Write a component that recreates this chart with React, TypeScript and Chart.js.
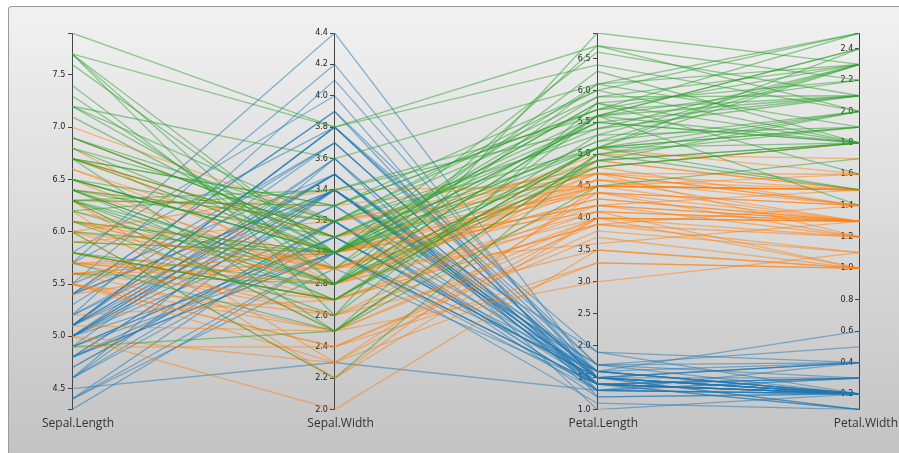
import React, { useEffect, useRef } from 'react';
import { Chart, registerables } from 'chart.js';

Chart.register(...registerables);

const dimensions = ['Sepal.Length', 'Sepal.Width', 'Petal.Length', 'Petal.Width'];
const speciesNames = ['setosa', 'versicolor', 'virginica'];
const speciesCounts = [50, 50, 50];
const speciesColors = ['rgba(31,119,180,0.5)', 'rgba(255,127,14,0.5)', 'rgba(44,160,44,0.5)'];

const sepalLength = [
  5.1, 4.9, 4.7, 4.6, 5.0, 5.4, 4.6, 5.0, 4.4, 4.9, 5.4, 4.8, 4.8, 4.3, 5.8, 5.7, 5.4, 5.1, 5.7, 5.1, 5.4, 5.1, 4.6, 5.1, 4.8,
  5.0, 5.0, 5.2, 5.2, 4.7, 4.8, 5.4, 5.2, 5.5, 4.9, 5.0, 5.5, 4.9, 4.4, 5.1, 5.0, 4.5, 4.4, 5.0, 5.1, 4.8, 5.1, 4.6, 5.3, 5.0,
  7.0, 6.4, 6.9, 5.5, 6.5, 5.7, 6.3, 4.9, 6.6, 5.2, 5.0, 5.9, 6.0, 6.1, 5.6, 6.7, 5.6, 5.8, 6.2, 5.6, 5.9, 6.1, 6.3, 6.1, 6.4,
  6.6, 6.8, 6.7, 6.0, 5.7, 5.5, 5.5, 5.8, 6.0, 5.4, 6.0, 6.7, 6.3, 5.6, 5.5, 5.5, 6.1, 5.8, 5.0, 5.6, 5.7, 5.7, 6.2, 5.1, 5.7,
  6.3, 5.8, 7.1, 6.3, 6.5, 7.6, 4.9, 7.3, 6.7, 7.2, 6.5, 6.4, 6.8, 5.7, 5.8, 6.4, 6.5, 7.7, 7.7, 6.0, 6.9, 5.6, 7.7, 6.3, 6.7,
  7.2, 6.2, 6.1, 6.4, 7.2, 7.4, 7.9, 6.4, 6.3, 6.1, 7.7, 6.3, 6.4, 6.0, 6.9, 6.7, 6.9, 5.8, 6.8, 6.7, 6.7, 6.3, 6.5, 6.2, 5.9,
];
const sepalWidth = [
  3.5, 3.0, 3.2, 3.1, 3.6, 3.9, 3.4, 3.4, 2.9, 3.1, 3.7, 3.4, 3.0, 3.0, 4.0, 4.4, 3.9, 3.5, 3.8, 3.8, 3.4, 3.7, 3.6, 3.3, 3.4,
  3.0, 3.4, 3.5, 3.4, 3.2, 3.1, 3.4, 4.1, 4.2, 3.1, 3.2, 3.5, 3.6, 3.0, 3.4, 3.5, 2.3, 3.2, 3.5, 3.8, 3.0, 3.8, 3.2, 3.7, 3.3,
  3.2, 3.2, 3.1, 2.3, 2.8, 2.8, 3.3, 2.4, 2.9, 2.7, 2.0, 3.0, 2.2, 2.9, 2.9, 3.1, 3.0, 2.7, 2.2, 2.5, 3.2, 2.8, 2.5, 2.8, 2.9,
  3.0, 2.8, 3.0, 2.9, 2.6, 2.4, 2.4, 2.7, 2.7, 3.0, 3.4, 3.1, 2.3, 3.0, 2.5, 2.6, 3.0, 2.6, 2.3, 2.7, 3.0, 2.9, 2.9, 2.5, 2.8,
  3.3, 2.7, 3.0, 2.9, 3.0, 3.0, 2.5, 2.9, 2.5, 3.6, 3.2, 2.7, 3.0, 2.5, 2.8, 3.2, 3.0, 3.8, 2.6, 2.2, 3.2, 2.8, 2.8, 2.7, 3.3,
  3.2, 2.8, 3.0, 2.8, 3.0, 2.8, 3.8, 2.8, 2.8, 2.6, 3.0, 3.4, 3.1, 3.0, 3.1, 3.1, 3.1, 2.7, 3.2, 3.3, 3.0, 2.5, 3.0, 3.4, 3.0,
];
const petalLength = [
  1.4, 1.4, 1.3, 1.5, 1.4, 1.7, 1.4, 1.5, 1.4, 1.5, 1.5, 1.6, 1.4, 1.1, 1.2, 1.5, 1.3, 1.4, 1.7, 1.5, 1.7, 1.5, 1.0, 1.7, 1.9,
  1.6, 1.6, 1.5, 1.4, 1.6, 1.6, 1.5, 1.5, 1.4, 1.5, 1.2, 1.3, 1.4, 1.3, 1.5, 1.3, 1.3, 1.3, 1.6, 1.9, 1.4, 1.6, 1.4, 1.5, 1.4,
  4.7, 4.5, 4.9, 4.0, 4.6, 4.5, 4.7, 3.3, 4.6, 3.9, 3.5, 4.2, 4.0, 4.7, 3.6, 4.4, 4.5, 4.1, 4.5, 3.9, 4.8, 4.0, 4.9, 4.7, 4.3,
  4.4, 4.8, 5.0, 4.5, 3.5, 3.8, 3.7, 3.9, 5.1, 4.5, 4.5, 4.7, 4.4, 4.1, 4.0, 4.4, 4.6, 4.0, 3.3, 4.2, 4.2, 4.2, 4.3, 3.0, 4.1,
  6.0, 5.1, 5.9, 5.6, 5.8, 6.6, 4.5, 6.3, 5.8, 6.1, 5.1, 5.3, 5.5, 5.0, 5.1, 5.3, 5.5, 6.7, 6.9, 5.0, 5.7, 4.9, 6.7, 4.9, 5.7,
  6.0, 4.8, 4.9, 5.6, 5.8, 6.1, 6.4, 5.6, 5.1, 5.6, 6.1, 5.6, 5.5, 4.8, 5.4, 5.6, 5.1, 5.1, 5.9, 5.7, 5.2, 5.0, 5.2, 5.4, 5.1,
];
const petalWidth = [
  0.2, 0.2, 0.2, 0.2, 0.2, 0.4, 0.3, 0.2, 0.2, 0.1, 0.2, 0.2, 0.1, 0.1, 0.2, 0.4, 0.4, 0.3, 0.3, 0.3, 0.2, 0.4, 0.2, 0.5, 0.2,
  0.2, 0.4, 0.2, 0.2, 0.2, 0.2, 0.4, 0.1, 0.2, 0.2, 0.2, 0.2, 0.1, 0.2, 0.2, 0.3, 0.3, 0.2, 0.6, 0.4, 0.3, 0.2, 0.2, 0.2, 0.2,
  1.4, 1.5, 1.5, 1.3, 1.5, 1.3, 1.6, 1.0, 1.3, 1.4, 1.0, 1.5, 1.0, 1.4, 1.3, 1.4, 1.5, 1.0, 1.5, 1.1, 1.8, 1.3, 1.5, 1.2, 1.3,
  1.4, 1.4, 1.7, 1.5, 1.0, 1.1, 1.0, 1.2, 1.6, 1.5, 1.6, 1.5, 1.3, 1.3, 1.3, 1.2, 1.4, 1.2, 1.0, 1.3, 1.2, 1.3, 1.3, 1.1, 1.3,
  2.5, 1.9, 2.1, 1.8, 2.2, 2.1, 1.7, 1.8, 1.8, 2.5, 2.0, 1.9, 2.1, 2.0, 2.4, 2.3, 1.8, 2.2, 2.3, 1.5, 2.3, 2.0, 2.0, 1.8, 2.1,
  1.8, 1.8, 1.8, 2.1, 1.6, 1.9, 2.0, 2.2, 1.5, 1.4, 2.3, 2.4, 1.8, 1.8, 2.1, 2.4, 2.3, 1.9, 2.3, 2.5, 2.3, 1.9, 2.0, 2.3, 1.8,
];

const sepalLengthTicks = [4.5, 5.0, 5.5, 6.0, 6.5, 7.0, 7.5];
const sepalWidthTicks = [2.0, 2.2, 2.4, 2.6, 2.8, 3.0, 3.2, 3.4, 3.6, 3.8, 4.0, 4.2, 4.4];
const petalLengthTicks = [1.0, 1.5, 2.0, 2.5, 3.0, 3.5, 4.0, 4.5, 5.0, 5.5, 6.0, 6.5];
const petalWidthTicks = [0.2, 0.4, 0.6, 0.8, 1.0, 1.2, 1.4, 1.6, 1.8, 2.0, 2.2, 2.4];

const columns = [sepalLength, sepalWidth, petalLength, petalWidth];
const tickLists = [sepalLengthTicks, sepalWidthTicks, petalLengthTicks, petalWidthTicks];

export default function App() {
  const ref = useRef<HTMLCanvasElement | null>(null);

  useEffect(() => {
    if (!ref.current) return;
    const extents = columns.map((c) => [Math.min(...c), Math.max(...c)]);
    const speciesOf: number[] = [];
    speciesCounts.forEach((n, s) => {
      for (let k = 0; k < n; k++) speciesOf.push(s);
    });
    const rows = sepalLength.length;
    const datasets: any[] = [];
    for (let r = rows - 1; r >= 0; r--) {
      datasets.push({
        label: speciesNames[speciesOf[r]],
        data: columns.map((c, d) => ({
          x: d,
          y: (c[r] - extents[d][0]) / (extents[d][1] - extents[d][0]),
        })),
        borderColor: speciesColors[speciesOf[r]],
        borderWidth: 1.3,
        pointRadius: 0,
        tension: 0,
        fill: false,
        xAxisID: 'x',
        yAxisID: 'yn',
      });
    }

    const scales: any = {
      x: {
        type: 'linear',
        min: 0,
        max: dimensions.length - 1,
        grid: { display: false, drawTicks: false, tickLength: 0 },
        border: { display: false },
        afterBuildTicks: (s: any) => {
          s.ticks = dimensions.map((_, i) => ({ value: i }));
        },
        ticks: {
          callback: (v: any) => dimensions[Math.round(Number(v))],
          font: { size: 12, family: 'Open Sans' },
          color: '#333',
          padding: 7,
          labelOffset: 6,
          maxRotation: 0,
          minRotation: 0,
          autoSkip: false,
        },
      },
      yn: { type: 'linear', min: 0, max: 1, display: false },
    };

    dimensions.forEach((_, d) => {
      const [mn, mx] = extents[d];
      scales['y' + d] = {
        type: 'linear',
        axis: 'y',
        position: { x: d },
        min: mn,
        max: mx,
        bounds: 'data',
        z: 1,
        afterBuildTicks: (s: any) => {
          const inner = tickLists[d].filter((t) => t > mn + 1e-9 && t < mx - 1e-9);
          s.ticks = [mn, ...inner, mx].map((v) => ({ value: v }));
        },
        ticks: {
          autoSkip: false,
          callback: (v: any) => {
            const n = Number(v);
            if (Math.abs(n - mn) < 1e-9 && !tickLists[d].some((t) => Math.abs(t - mn) < 1e-9)) return '';
            if (Math.abs(n - mx) < 1e-9 && !tickLists[d].some((t) => Math.abs(t - mx) < 1e-9)) return '';
            return n.toFixed(1) + '\u2007\u2009';
          },
          font: { size: 8, family: 'DejaVu Sans' },
          color: '#222',
          padding: 3,
        },
        grid: { drawOnChartArea: false, drawTicks: true, tickLength: 4, color: '#444', lineWidth: 1 },
        border: { display: true, color: '#444', width: 1 },
      };
    });

    const chart = new Chart(ref.current, {
      type: 'line',
      data: { datasets },
      options: {
        animation: false,
        responsive: false,
        devicePixelRatio: 1,
        layout: { padding: { left: 63, right: 39, top: 26, bottom: 15 } },
        plugins: { legend: { display: false }, tooltip: { enabled: false } },
        events: [],
        scales,
      } as any,
    });
    return () => chart.destroy();
  }, []);

  return (
    <div
      style={{
        position: 'absolute',
        left: 8,
        top: 6,
        width: 891,
        height: 447,
        boxSizing: 'border-box',
        borderTop: '1px solid #9a9a9a',
        borderLeft: '1px solid #9a9a9a',
        borderTopLeftRadius: 4,
        background: 'linear-gradient(to bottom, #f1f1f1, #c3c3c3)',
        overflow: 'hidden',
      }}
    >
      <canvas ref={ref} width={890} height={446} style={{ display: 'block' }} />
    </div>
  );
}
